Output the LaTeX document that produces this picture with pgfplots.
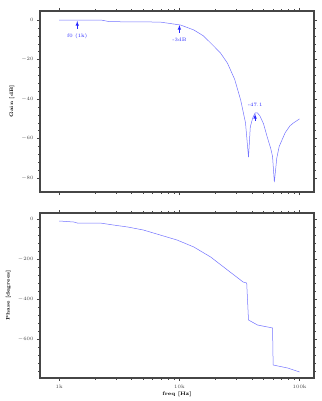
\documentclass[border=0pt]{standalone}
\usepackage{pgfplots}
\pgfplotsset{compat=1.18}
\definecolor{cCurve}{RGB}{115,115,255}
\definecolor{cMark}{RGB}{40,40,255}
\definecolor{cFrame}{RGB}{70,70,70}
\pgfplotsset{
  every axis/.append style={
    scale only axis, width=274pt,
    axis line style={cFrame, line width=1.3pt},
    tick style={cFrame, line width=0.5pt},
    major tick length=3pt, minor tick length=1.8pt,
    tick align=outside,
    minor y tick num=4,
    ticklabel style={font=\tiny, text=cFrame},
    label style={font=\tiny\bfseries},
  }
}
\begin{document}
\begin{tikzpicture}
\path (0,0) rectangle (321pt,-401pt);
\begin{axis}[xmode=log, xmin=692, xmax=131826, xtick={1000,10000,100000},
  at={(40pt,-11pt)}, anchor=north west, height=181pt,
  ymin=-87, ymax=4.6, ytick={0,-20,-40,-60,-80},
  xticklabels={}, ylabel={Gain [dB]}]
\addplot[cCurve, line width=0.5pt] coordinates {
(1000,0) (2239,0) (2630,-0.8) (6918,-1) (10233,-2.5) (13183,-5) (15849,-8)
(18197,-11.6) (21878,-16.5) (25119,-21.8) (28840,-30) (32359,-40.5) (35481,-52)
(37584,-69.4) (38905,-54) (40738,-49.5) (42658,-47) (44668,-47) (46774,-48.5)
(50119,-52.5) (53703,-59) (57544,-65) (59566,-69) (61660,-82) (64565,-70)
(67608,-64) (75858,-57) (83176,-53.5) (89125,-52) (100000,-50)};
\draw[-latex, cMark, line width=0.6pt] (axis cs:1413,-4.5) -- (axis cs:1413,-0.5);
\node[text=cMark, font=\tiny, anchor=north] at (axis cs:1413,-5) {f0 (1k)};
\draw[-latex, cMark, line width=0.6pt] (axis cs:10000,-6.5) -- (axis cs:10000,-2.5);
\node[text=cMark, font=\tiny, anchor=north] at (axis cs:10000,-7.5) {-3dB};
\draw[-latex, cMark, line width=0.6pt] (axis cs:42658,-51) -- (axis cs:42658,-47.5);
\node[text=cMark, font=\tiny, anchor=south] at (axis cs:42658,-45.5) {-47.1};
\end{axis}
\begin{axis}[xmode=log, xmin=692, xmax=131826, xtick={1000,10000,100000},
  at={(40pt,-213pt)}, anchor=north west, height=165pt,
  ymin=-795, ymax=30, ytick={0,-200,-400,-600,-800},
  xticklabels={1k,10k,100k},
  scaled y ticks=false,
  xlabel={freq [Hz]}, ylabel={Phase [degrees]},
  xlabel style={yshift=3pt}]
\addplot[cCurve, line width=0.5pt] coordinates {
(1000,-10) (1318,-15) (1413,-20) (2188,-20) (2818,-30) (3715,-40) (5012,-55)
(6918,-80) (9550,-105) (13183,-140) (18197,-190) (25119,-255) (33884,-315)
(36308,-320) (37584,-505) (44668,-530) (59566,-545) (60256,-730) (79433,-745)
(100000,-765)};
\end{axis}
\end{tikzpicture}
\end{document}
